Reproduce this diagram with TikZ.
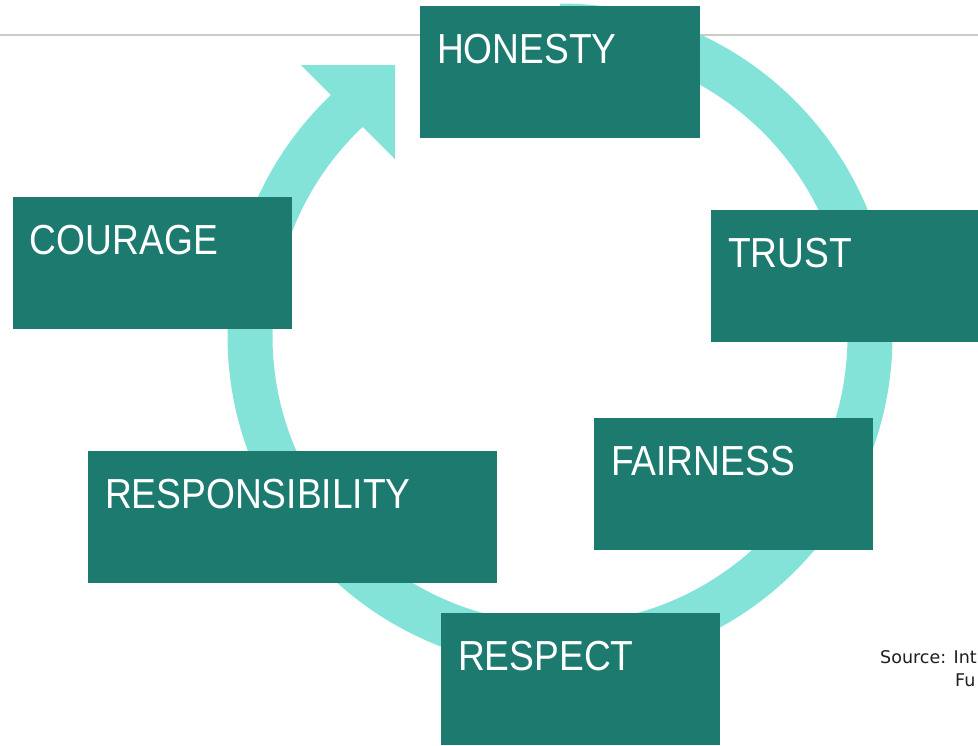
\documentclass[tikz,border=0pt]{standalone}
\usepackage{fontspec}
\usetikzlibrary{calc}
\newfontfamily\lblfont{Liberation Sans}
\newfontfamily\srcfont{DejaVu Sans}
\definecolor{boxteal}{HTML}{1C7A6F}
\definecolor{ringteal}{HTML}{84E3D8}
\definecolor{rulegray}{HTML}{CCCCCC}
\definecolor{srcgray}{HTML}{1E1E1E}
\newcommand{\vlab}[1]{\scalebox{0.885}[1]{#1}}
\begin{document}
\begin{tikzpicture}[x=1pt,y=-1pt,
  valuebox/.style={fill=boxteal, draw=none, anchor=north west, minimum height=132pt, inner sep=0pt, outer sep=0pt},
  valuetext/.style={anchor=base west, inner sep=0pt, outer sep=0pt, text=white, font=\lblfont\fontsize{42}{42}\selectfont},
  srctext/.style={anchor=base west, inner sep=0pt, text=srcgray, font=\srcfont\fontsize{17.5}{19}\selectfont},
  ring/.style={draw=ringteal, line width=45pt},
  ringhead/.style={fill=ringteal, draw=none}]
\useasboundingbox (0,0) rectangle (978,745);
\clip (0,0) rectangle (978,745);
% top rule
\draw[rulegray, line width=2pt] (0,35) -- (978,35);
% cycle ring
\coordinate (C) at (560,336);
\draw[ring] (C) ++(-90:310) arc[start angle=-90, end angle=227, radius=310];
\fill[ringhead] (301,65) -- (395,65) -- (395,159) -- cycle;
% boxes
\node[valuebox, minimum width=280pt] (honesty) at (420,6) {};
\node[valuebox, minimum width=280pt] (trust) at (711,210) {};
\node[valuebox, minimum width=279pt] (courage) at (13,197) {};
\node[valuebox, minimum width=279pt] (fairness) at (594,418) {};
\node[valuebox, minimum width=409pt] (responsibility) at (88,451) {};
\node[valuebox, minimum width=279pt] (respect) at (441,613) {};
% labels
\node[valuetext] (honestyT) at ($(honesty.north west)+(17,57)$) {\vlab{HONESTY}};
\node[valuetext] (trustT) at ($(trust.north west)+(17,57)$) {\vlab{TRUST}};
\node[valuetext] (courageT) at ($(courage.north west)+(17,57)$) {\vlab{COURAGE}};
\node[valuetext] (fairnessT) at ($(fairness.north west)+(17,57)$) {\vlab{FAIRNESS}};
\node[valuetext] (responsibilityT) at ($(responsibility.north west)+(17,57)$) {\vlab{RESPONSIBILITY}};
\node[valuetext] (respectT) at ($(respect.north west)+(17,57)$) {\vlab{RESPECT}};
% source
\node[srctext] (src1) at (880,663) {Source: Int};
\node[srctext] (src2) at (955,686) {Fu};
\end{tikzpicture}
\end{document}
